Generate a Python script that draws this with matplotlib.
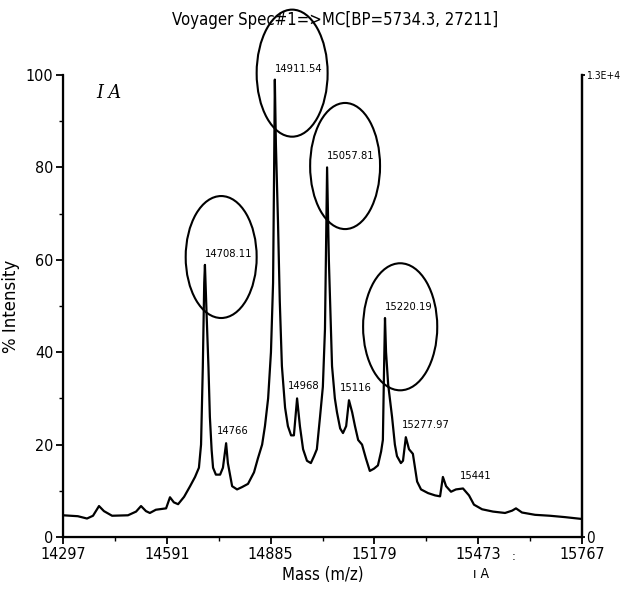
import matplotlib
matplotlib.use("Agg")
import matplotlib.pyplot as plt
from matplotlib.patches import Ellipse

# spectrum trace
mass = [14297, 14339, 14365, 14382, 14399, 14413, 14436, 14481, 14504, 14518,
        14532, 14543, 14560, 14589, 14600, 14611, 14623, 14640, 14657, 14671,
        14682, 14688, 14693, 14697, 14699, 14704, 14709, 14713, 14718, 14722,
        14730, 14742, 14750, 14759, 14764, 14776, 14790, 14804, 14821, 14838,
        14849, 14861, 14869, 14878, 14886, 14892, 14895, 14897, 14900, 14906,
        14911, 14917, 14926, 14934, 14943, 14951, 14960, 14968, 14977, 14988,
        14999, 15008, 15016, 15025, 15033, 15039, 15045, 15050, 15059, 15067,
        15073, 15082, 15090, 15099, 15107, 15116, 15124, 15133, 15144, 15155,
        15166, 15178, 15189, 15198, 15203, 15206, 15209, 15212, 15218, 15229,
        15237, 15243, 15254, 15260, 15268, 15277, 15288, 15300, 15311, 15331,
        15351, 15365, 15373, 15382, 15396, 15410, 15430, 15447, 15461, 15484,
        15515, 15549, 15569, 15580, 15597, 15634, 15676, 15719, 15767]
intensity = [4.7, 4.5, 4.0, 4.6, 6.7, 5.6, 4.6, 4.7, 5.5, 6.7,
             5.6, 5.2, 5.9, 6.2, 8.6, 7.5, 7.1, 8.7, 11.0, 13.0,
             15.0, 20.0, 36.8, 55.0, 58.9, 47.6, 36.8, 26.0, 18.8, 15.0,
             13.5, 13.5, 15.0, 20.3, 16.0, 11.0, 10.3, 10.8, 11.5, 14.0,
             17.0, 20.0, 24.0, 30.0, 40.0, 55.0, 80.0, 99.0, 85.0, 68.0,
             51.0, 37.0, 28.0, 24.0, 22.0, 22.0, 30.0, 24.0, 19.0, 16.5,
             16.0, 17.5, 19.0, 26.0, 32.5, 45.0, 80.0, 60.0, 37.0, 30.0,
             27.0, 23.5, 22.5, 24.0, 29.6, 27.0, 24.0, 21.0, 20.0, 17.0,
             14.3, 14.8, 15.5, 18.5, 21.0, 35.0, 47.4, 40.0, 33.0, 26.0,
             20.0, 17.5, 16.0, 16.5, 21.6, 19.0, 18.0, 12.0, 10.3, 9.5,
             9.0, 8.8, 13.0, 11.0, 9.8, 10.3, 10.5, 9.0, 7.0, 6.0,
             5.5, 5.2, 5.7, 6.2, 5.3, 4.8, 4.6, 4.3, 3.9]

# labelled peaks
peak_mass = [14699, 14759, 14897, 14960, 15045, 15107, 15209, 15268, 15430]
peak_int = [58.9, 20.3, 99.0, 30.0, 80.0, 29.6, 47.4, 21.6, 10.5]
peak_labels = ["14708.11", "14766", "14911.54", "14968", "15057.81",
               "15116", "15220.19", "15277.97", "15441"]
circled = [True, False, True, False, True, False, True, False, False]

xticks = [14297, 14591, 14885, 15179, 15473, 15767]
yticks = [0, 20, 40, 60, 80, 100]

plt.rcParams["font.family"] = ["DejaVu Sans"]
plt.rcParams["font.stretch"] = "condensed"

fig = plt.figure(figsize=(6.22, 5.89), dpi=100)
ax = fig.add_axes([63 / 622, 1 - 537 / 589, 519 / 622, 462 / 589])

ax.plot(mass, intensity, color="black", lw=1.6)
ax.set_xlim(14297, 15767)
ax.set_ylim(0, 100)

ax.spines["top"].set_visible(False)
for s in ("left", "right", "bottom"):
    ax.spines[s].set_linewidth(1.6)

ax.set_xticks(xticks)
ax.set_xticklabels([str(t) for t in xticks], fontsize=11.5)
ax.set_xticks([t + 147 for t in xticks[:-1]], minor=True)
ax.set_yticks(yticks)
ax.set_yticklabels([str(t) for t in yticks], fontsize=11.5)
ax.set_yticks([10, 30, 50, 70, 90], minor=True)
ax.tick_params(which="major", length=5, width=1.3, pad=2)
ax.tick_params(which="minor", length=3, width=1.0)

ax2 = ax.twinx()
ax2.set_ylim(0, 13000)
ax2.set_yticks([0, 13000])
ax2.set_yticklabels(["0", "1.3E+4"], fontsize=7.5)
ax2.get_yticklabels()[0].set_fontsize(11)
ax2.spines["top"].set_visible(False)
ax2.spines["right"].set_linewidth(1.6)
ax2.tick_params(length=2.5, width=1.3, pad=0.5)

ax.set_xlabel("Mass (m/z)", fontsize=12, labelpad=3)
ax.set_ylabel("% Intensity", fontsize=12, fontstretch="normal")
ax.yaxis.set_label_coords(-0.083, 0.5)
fig.text(0.538, 0.966, "Voyager Spec#1=>MC[BP=5734.3, 27211]",
         ha="center", va="center", fontsize=12)
ax.text(0.065, 0.96, "I A", transform=ax.transAxes, fontsize=14,
        family="DejaVu Serif", style="italic", va="center")
fig.text(0.76, 0.018, "ı A", fontsize=10)
fig.text(0.823, 0.05, ":", fontsize=9)

# peak labels: big circled ones start at the peak, small ones sit centred-ish
for m, v, lab, c in zip(peak_mass, peak_int, peak_labels, circled):
    if c:
        ax.annotate(lab, (m, v), xytext=(0, 6), textcoords="offset pixels",
                    ha="left", va="bottom", fontsize=8)
    else:
        dx = 20 if lab == "15277.97" else (13 if lab == "15441" else 7)
        ax.annotate(lab, (m, v), xytext=(dx, 7), textcoords="offset pixels",
                    ha="center", va="bottom", fontsize=8)

# hand-drawn circles around the main peaks (centre mass, centre %, w, h)
ellipses = [(14745, 60.6, 201, 26.4), (14946, 100.4, 201, 27.5),
            (15096, 80.3, 198, 27.3), (15252, 45.5, 210, 27.5)]
for cx, cy, w, h in ellipses:
    ax.add_patch(Ellipse((cx, cy), w, h, fill=False, lw=1.5,
                         edgecolor="black", clip_on=False))

fig.savefig("out.png", dpi=100)
